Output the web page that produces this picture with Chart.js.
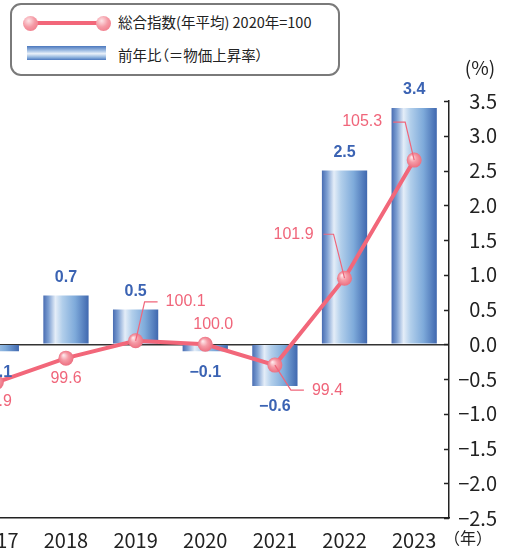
<!DOCTYPE html>
<html lang="ja">
<head>
<meta charset="utf-8">
<script src="https://cdn.jsdelivr.net/npm/chart.js@4.4.1/dist/chart.umd.min.js"></script>
<style>
  html, body { margin: 0; padding: 0; background: #fff; }
  #wrap { position: relative; width: 509px; height: 554px; overflow: hidden; background: #fff; }
  #chartBox { position: absolute; left: -46px; top: 0; width: 555px; height: 554px; }
  .lg { position: absolute; font-family: "Noto Sans CJK JP", "Noto Sans", sans-serif; font-size: 14.5px;
        color: #222; line-height: 1; white-space: nowrap; font-feature-settings: "palt"; }
  #legendBox { position: absolute; left: 10px; top: 3px; width: 326px; height: 69px;
               border: 2px solid #7a7a7a; border-radius: 11px; background: #fff; }
  #lgLine { position: absolute; left: 30px; top: 21px; width: 73px; height: 4px; background: #f2677a; }
  .lgDot { position: absolute; width: 15px; height: 15px; border-radius: 50%;
           background: radial-gradient(circle at 38% 32%, #fde4e7 0%, #f59aa5 45%, #ee6f80 100%); }
  #lgBar { position: absolute; left: 27px; top: 46px; width: 79px; height: 14px;
           background: linear-gradient(to bottom, #4a77bd 0%, #a9c4e6 35%, #eaf1f9 55%, #93b6df 80%, #4d79bf 100%); }
</style>
</head>
<body>
<div id="wrap">
  <div id="chartBox"><canvas id="cpi"></canvas></div>
  <div id="legendBox"></div>
  <div id="lgLine"></div>
  <div class="lgDot" style="left:22.5px; top:15.5px;"></div>
  <div class="lgDot" style="left:95.5px; top:15.5px;"></div>
  <div class="lg" style="left:118px; top:15px;">総合指数(年平均) 2020年=100</div>
  <div id="lgBar"></div>
  <div class="lg" style="left:118px; top:48px;">前年比（＝物価上昇率）</div>
</div>
<script>
// data
const years = ['2017', '2018', '2019', '2020', '2021', '2022', '2023'];
const indexValues = [98.9, 99.6, 100.1, 100.0, 99.4, 101.9, 105.3];   // 総合指数 2020年=100
const changeValues = [-0.1, 0.7, 0.5, -0.1, -0.6, 2.5, 3.4];          // 前年比 (%)
const pctTicks = [3.5, 3.0, 2.5, 2.0, 1.5, 1.0, 0.5, 0.0, -0.5, -1.0, -1.5, -2.0, -2.5];

// where each index label sits relative to its point
const indexLabelSpots = [
  { dx: 0, dy: 19 },
  { dx: 0, dy: 20 },
  { ex: 9, ey: -39, endX: 22, dx: 30, align: 'left' },
  { dx: 8, dy: -20 },
  { ex: 16, ey: 25, endX: 29, dx: 37, align: 'left' },
  { ex: -11, ey: -44, endX: -21, dx: -31, align: 'right' },
  { ex: -9, ey: -38, endX: -21, dx: -32, align: 'right' }
];

const PINK = '#f0657a';
const BLUE = '#3b63b3';
const NUM_FONT = '"Liberation Sans", Arial, sans-serif';

function fmt(v) {
  const s = Math.abs(v).toFixed(1);
  return v < 0 ? '\u2212' + s : s;
}

function barGradient(context) {
  const chart = context.chart;
  const xs = chart.scales.x;
  if (!xs || !chart.chartArea) return '#6f97d0';
  const meta = chart.getDatasetMeta(context.datasetIndex);
  const el = meta.data[context.dataIndex];
  const cx = xs.getPixelForValue(context.dataIndex);
  const w = el && el.width ? el.width : 46;
  const g = chart.ctx.createLinearGradient(cx - w / 2, 0, cx + w / 2, 0);
  g.addColorStop(0, '#4569b0');
  g.addColorStop(0.12, '#7d9fd2');
  g.addColorStop(0.27, '#e4edf8');
  g.addColorStop(0.42, '#b2cfeb');
  g.addColorStop(0.7, '#7eaada');
  g.addColorStop(1, '#3e66ae');
  return g;
}

function pointGradient(context) {
  const chart = context.chart;
  const xs = chart.scales.x, ys = chart.scales.y2;
  if (!xs || !ys || !chart.chartArea) return '#f28a97';
  const x = xs.getPixelForValue(context.dataIndex);
  const y = ys.getPixelForValue(context.raw);
  const g = chart.ctx.createRadialGradient(x - 2.5, y - 3, 0.5, x, y, 8);
  g.addColorStop(0, '#fde6e9');
  g.addColorStop(0.45, '#f59ba6');
  g.addColorStop(1, '#ec6b7d');
  return g;
}

// value labels, leader lines, inward ticks and unit captions
const decorPlugin = {
  id: 'decor',
  afterDatasetsDraw(chart) {
    const ctx = chart.ctx;
    const bars = chart.getDatasetMeta(1).data;
    const pts = chart.getDatasetMeta(0).data;
    ctx.save();
    ctx.textBaseline = 'middle';

    // bar labels
    ctx.font = 'bold 16px ' + NUM_FONT;
    ctx.fillStyle = BLUE;
    ctx.textAlign = 'center';
    bars.forEach((b, i) => {
      const v = changeValues[i];
      const y = v >= 0 ? b.y - 18 : b.y + 21;
      ctx.fillText(fmt(v), b.x, y);
    });

    // index labels
    ctx.font = '16px ' + NUM_FONT;
    ctx.fillStyle = PINK;
    ctx.strokeStyle = PINK;
    ctx.lineWidth = 1.2;
    pts.forEach((p, i) => {
      const s = indexLabelSpots[i];
      const txt = indexValues[i].toFixed(1);
      if (s.ex !== undefined) {
        ctx.beginPath();
        ctx.moveTo(p.x, p.y);
        ctx.lineTo(p.x + s.ex, p.y + s.ey);
        ctx.lineTo(p.x + s.endX, p.y + s.ey);
        ctx.stroke();
        ctx.textAlign = s.align;
        ctx.fillText(txt, p.x + s.dx, p.y + s.ey);
      } else {
        ctx.textAlign = 'center';
        ctx.fillText(txt, p.x + s.dx, p.y + s.dy);
      }
    });
    ctx.restore();
  },
  afterDraw(chart) {
    const ctx = chart.ctx;
    const ys = chart.scales.y;
    const area = chart.chartArea;
    ctx.save();
    ctx.strokeStyle = '#222';
    ctx.lineWidth = 1.5;
    pctTicks.forEach(v => {
      const y = Math.round(ys.getPixelForValue(v)) + 0.5;
      ctx.beginPath();
      ctx.moveTo(area.right - 5, y);
      ctx.lineTo(area.right, y);
      ctx.stroke();
    });
    ctx.fillStyle = '#222';
    ctx.font = '19px "Noto Sans CJK JP", sans-serif';
    ctx.textAlign = 'center';
    ctx.textBaseline = 'middle';
    ctx.fillText('(%)', area.right + 31, 68);
    ctx.font = '16px "Noto Sans CJK JP", sans-serif';
    ctx.fillText('（年）', area.right + 19, 538);
    ctx.restore();
  }
};

const ctx = document.getElementById('cpi').getContext('2d');
Chart.defaults.font.family = NUM_FONT;
Chart.defaults.color = '#222';

new Chart(ctx, {
  type: 'bar',
  data: {
    labels: years,
    datasets: [
      {
        type: 'line',
        label: '総合指数(年平均) 2020年=100',
        data: indexValues,
        yAxisID: 'y2',
        borderColor: '#f2677a',
        borderWidth: 4,
        pointRadius: 7.5,
        pointHoverRadius: 7.5,
        pointBorderWidth: 0,
        pointBackgroundColor: pointGradient,
        tension: 0,
        order: 0
      },
      {
        type: 'bar',
        label: '前年比（＝物価上昇率）',
        data: changeValues,
        yAxisID: 'y',
        backgroundColor: barGradient,
        borderWidth: 0,
        categoryPercentage: 1,
        barPercentage: 0.65,
        order: 1
      }
    ]
  },
  options: {
    responsive: true,
    maintainAspectRatio: false,
    animation: false,
    layout: { padding: { top: 101, right: 12, left: 0, bottom: 0 } },
    scales: {
      x: {
        grid: { display: false },
        border: { display: true, color: '#222', width: 1.5 },
        ticks: { font: { size: 20, family: '"Noto Sans CJK JP", sans-serif' }, color: '#222', padding: 2, maxRotation: 0 },
        afterFit: s => { s.height = 36; }
      },
      y: {
        position: 'right',
        min: -2.5,
        max: 3.5,
        grid: {
          drawTicks: false,
          lineWidth: 1.5,
          color: c => (c.tick && c.tick.value === 0 ? '#333' : 'rgba(0,0,0,0)')
        },
        border: { display: true, color: '#222', width: 1.5 },
        ticks: {
          stepSize: 0.5,
          padding: 8,
          crossAlign: 'far',
          color: '#222',
          font: { size: 20, family: '"Noto Sans CJK JP", sans-serif' },
          callback: v => fmt(v)
        },
        afterFit: s => { s.width = 48; }
      },
      y2: {
        display: false,
        min: 95,
        max: 107
      }
    },
    plugins: {
      legend: { display: false },
      tooltip: { enabled: false }
    }
  },
  plugins: [decorPlugin]
});
</script>
</body>
</html>
